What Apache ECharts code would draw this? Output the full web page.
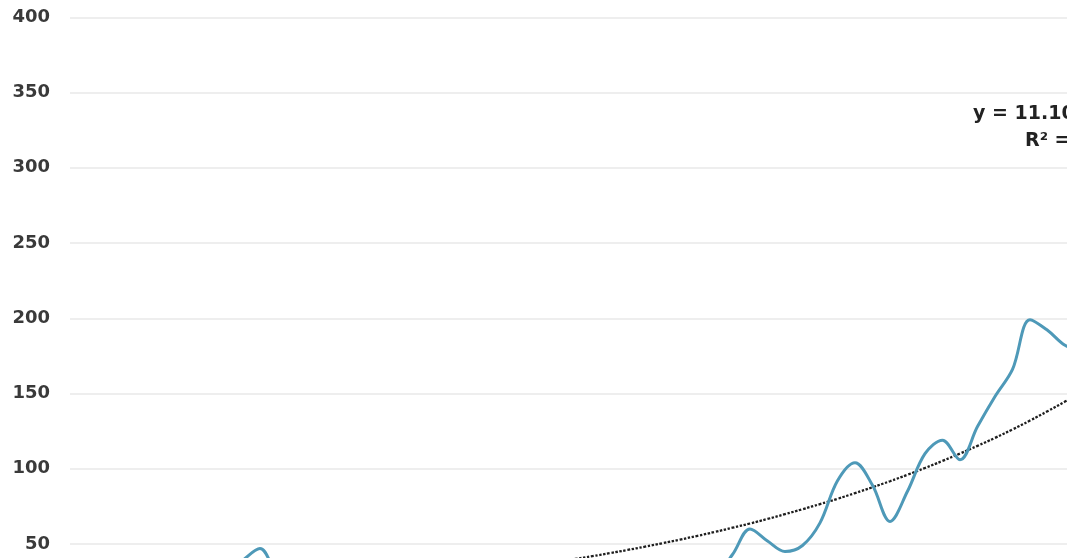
<!DOCTYPE html>
<html>
<head>
<meta charset="utf-8">
<script src="https://cdn.jsdelivr.net/npm/echarts@6/dist/echarts.min.js"></script>
<style>
html,body{margin:0;padding:0;background:#fff;}
#chart{width:1067px;height:558px;}
</style>
</head>
<body>
<div id="chart"></div>
<script>
// Period index (x axis itself lies below the visible crop)
const periods = [1,2,3,4,5,6,7,8,9,10,11,12,13,14,15,16,17,18,19,20,
  21,22,23,24,25,26,27,28,29,30,31,32,33,34,35,36,37,38,39,40,
  41,42,43,44,45,46,47,48,49,50,51,52,53,54,55,56,57,58,59,60];

// Main series (values below ~40 are outside the visible crop and estimated)
const seriesValues = [22,25,20,28,24,30,26,33,30,39,47,31,29,35,28,32,25,30,27,33,
  29,24,31,35,30,27,34,36,32,35,30,34,36,33,35,34,30,43,60,52,
  45,49,64,92,104,89,65,85,110,119,106,128,148,166,199,192,182,178,176,180];

// Dotted trend line
const trendValues = [11.3,11.8,12.4,13.0,13.6,14.2,14.9,15.6,16.3,17.0,17.8,18.7,19.5,20.4,21.4,22.4,23.4,24.5,25.7,26.9,
  28.1,29.4,30.8,32.2,33.7,35.3,36.9,38.3,40.0,41.9,43.9,46.0,48.2,50.5,52.9,55.4,58.0,60.8,63.6,66.6,
  69.8,73.1,76.5,80.0,83.8,87.7,91.7,96.0,100.5,105.2,110.1,115.2,120.5,126.1,132.0,138.2,144.6,151.3,158.4,165.7];

const yTicks = {min: 0, max: 400, interval: 50};
const trendLabel1 = 'y = 11.104e';
const trendLabel1Sup = '0.0455x';
const trendLabel2 = 'R² = 0.8327';

const toPairs = (xs, ys) => xs.map((x, i) => [x, ys[i]]);

const chart = echarts.init(document.getElementById('chart'), null, {renderer: 'canvas'});
chart.setOption({
  backgroundColor: '#ffffff',
  animation: false,
  grid: {left: 70, top: 17.3, right: -68, bottom: -61.2, outerBoundsMode: 'none', containLabel: false},
  xAxis: {
    type: 'value',
    min: 0.143,
    max: 61,
    show: false,
    splitLine: {show: false}
  },
  yAxis: {
    type: 'value',
    min: yTicks.min, max: yTicks.max, interval: yTicks.interval,
    axisLine: {show: false},
    axisTick: {show: false},
    axisLabel: {
      margin: 20,
      color: '#3a3a3a',
      fontFamily: 'DejaVu Sans',
      fontWeight: 'bold',
      fontSize: 18
    },
    splitLine: {lineStyle: {color: '#e9e9e9', width: 1.5}}
  },
  series: [
    {
      type: 'line',
      data: toPairs(periods, trendValues),
      smooth: true,
      symbol: 'none',
      z: 3,
      lineStyle: {color: '#1e1e1e', width: 2.3, type: [2.5, 1.6]}
    },
    {
      type: 'line',
      data: toPairs(periods, seriesValues),
      smooth: 0.35,
      symbol: 'none',
      z: 4,
      lineStyle: {color: '#4e99b8', width: 3}
    }
  ],
  graphic: [
    {
      type: 'text', x: 973, y: 114, z: 10,
      style: {
        text: '{a|' + trendLabel1 + '}{s|' + trendLabel1Sup + '}',
        textVerticalAlign: 'middle',
        rich: {
          a: {font: 'bold 19px "DejaVu Sans"', fill: '#222'},
          s: {font: 'bold 12px "DejaVu Sans"', fill: '#222', verticalAlign: 'top', padding: [0,0,8,0]}
        }
      }
    },
    {
      type: 'text', x: 1025, y: 141, z: 10,
      style: {
        text: trendLabel2,
        textVerticalAlign: 'middle',
        font: 'bold 19px "DejaVu Sans"',
        fill: '#222'
      }
    }
  ]
});
</script>
</body>
</html>
